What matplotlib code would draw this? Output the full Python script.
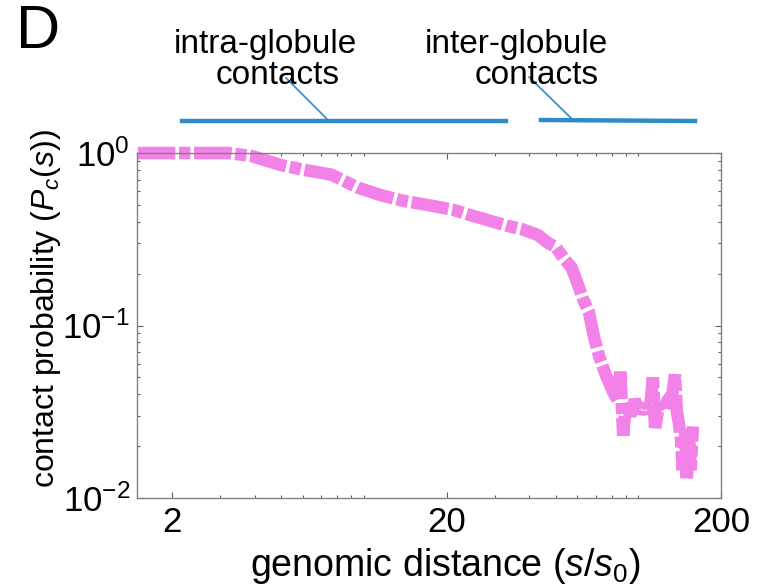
import matplotlib
matplotlib.use("Agg")
import matplotlib.pyplot as plt
from matplotlib import font_manager
from matplotlib.lines import Line2D
from matplotlib.ticker import FixedLocator, NullFormatter
import numpy as np

# available font names
names = set(f.name for f in font_manager.fontManager.ttflist)


def pick(cands):
    for c in cands:
        if c in names:
            return c
    return "DejaVu Sans"


sans = pick(["Liberation Sans", "Arial", "DejaVu Sans"])

plt.rcParams["font.family"] = [sans, "DejaVu Sans"]
plt.rcParams["mathtext.fontset"] = "custom"
plt.rcParams["mathtext.rm"] = sans
plt.rcParams["mathtext.it"] = sans + ":italic"

# contact probability curve
s_main = [1.5, 2.0, 2.5, 3.2, 3.9, 5.0, 6.0, 7.6, 9.5, 11.5, 13.8, 17, 21, 24,
          28, 33, 38, 43, 47, 50, 54, 57, 60, 63, 66, 69, 72, 76, 81]
p_main = [1.0, 1.0, 1.0, 1.0, 0.96, 0.85, 0.80, 0.75, 0.63, 0.57, 0.53, 0.50,
          0.47, 0.44, 0.41, 0.38, 0.36, 0.335, 0.30, 0.285, 0.24, 0.218, 0.176,
          0.141, 0.12, 0.085, 0.066, 0.052, 0.041]
# noisy tail
s_tail = [84, 86, 88, 90, 93.5, 97, 101, 105, 110, 113, 115, 119, 123, 128,
          133, 136, 138, 140, 143, 145, 148, 150, 153, 155, 158]
p_tail = [0.037, 0.054, 0.023, 0.035, 0.030, 0.037, 0.0315, 0.034, 0.032,
          0.050, 0.0255, 0.035, 0.032, 0.037, 0.040, 0.052, 0.032, 0.028,
          0.022, 0.0145, 0.025, 0.0127, 0.024, 0.0145, 0.026]

x_ticks = [2, 20, 200]
x_tick_labels = ["2", "20", "200"]
y_ticks = [0.01, 0.1, 1.0]
y_tick_labels = ["$10^{-2}$", "$10^{-1}$", "$10^{0}$"]

W, H = 757, 585
fig = plt.figure(figsize=(W / 100, H / 100), dpi=100)
ax = fig.add_axes([137 / W, 87 / H, 584 / W, 345 / H])

s = np.array(s_main + s_tail)
p = np.array(p_main + p_tail)
ax.plot(s, p, color="#f282e8", lw=9, dashes=(3.0, 0.3, 0.9, 0.3),
        solid_joinstyle="bevel", dash_joinstyle="bevel", dash_capstyle="butt",
        clip_on=False)

ax.set_xscale("log")
ax.set_yscale("log")
ax.set_xlim(1.49, 200)
ax.set_ylim(0.01, 1.0)

ax.xaxis.set_major_locator(FixedLocator(x_ticks))
ax.set_xticklabels(x_tick_labels)
minor_x = [m * d for d in (1, 10, 100) for m in range(2, 10) if m * d < 200] + [10, 100]
ax.xaxis.set_minor_locator(FixedLocator(minor_x))
ax.xaxis.set_minor_formatter(NullFormatter())
ax.yaxis.set_major_locator(FixedLocator(y_ticks))
ax.set_yticklabels(y_tick_labels)
minor_y = [m * d for d in (0.01, 0.1) for m in range(2, 10)]
ax.yaxis.set_minor_locator(FixedLocator(minor_y))
ax.yaxis.set_minor_formatter(NullFormatter())

for sp in ax.spines.values():
    sp.set_color("#808080")
    sp.set_linewidth(1.0)
ax.tick_params(which="both", direction="in", top=True, right=True,
               color="#606060", width=0.8)
ax.tick_params(which="major", length=4, labelsize=25, pad=5)
ax.tick_params(which="minor", length=2.5)
ax.tick_params(axis="x", pad=6)

ax.set_xlabel(r"genomic distance ($s$/$s_{\mathit{0}}$)", fontsize=27, va="center")
ax.xaxis.set_label_coords((445 - 137) / 584, (498 - 566) / 345)
ax.set_ylabel("contact probability ($P_c$($s$))", fontsize=23, va="center")
ax.yaxis.set_label_coords((46 - 137) / 584, (498 - 309) / 345)

# panel letter and region annotations
def fx(px):
    return px / W


def fy(py):
    return 1 - py / H


fig.text(fx(38), fy(33), "D", fontsize=44, ha="center", va="center")
fig.text(fx(265), fy(45), "intra-globule", fontsize=24, ha="center", va="center")
fig.text(fx(278), fy(75), "contacts", fontsize=24, ha="center", va="center")
fig.text(fx(516), fy(45), "inter-globule", fontsize=24, ha="center", va="center")
fig.text(fx(537), fy(75), "contacts", fontsize=24, ha="center", va="center")

blue = "#2f8bc8"
segs = [((182, 506), (121, 121), 3.2), ((541, 695), (120, 121), 3.2),
        ((286, 329), (78, 121), 1.2), ((529, 573), (77, 120), 1.2)]
for xs, ys, lw in segs:
    fig.add_artist(Line2D([fx(v) for v in xs], [fy(v) for v in ys],
                          color=blue, lw=lw, transform=fig.transFigure))

fig.savefig("out.png", dpi=100)
